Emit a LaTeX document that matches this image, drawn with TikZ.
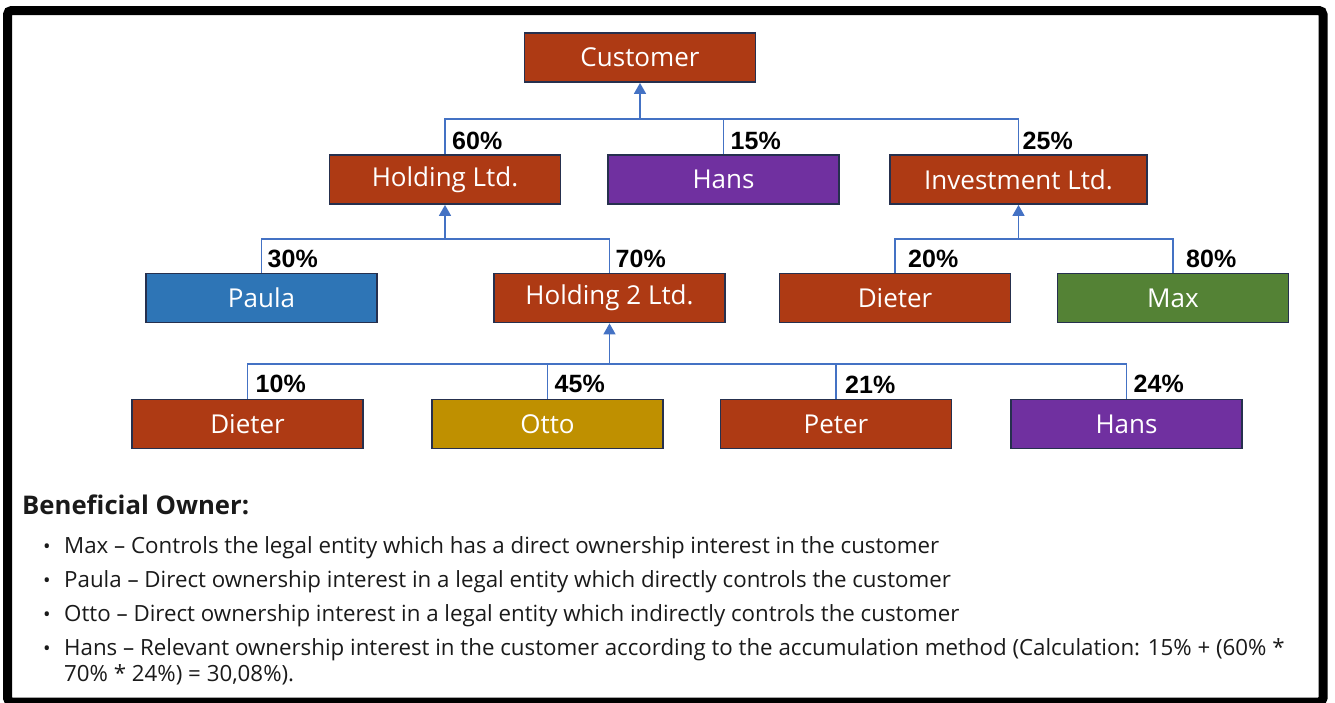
\documentclass[tikz,border=0pt]{standalone}
\usepackage{fontspec}
\setmainfont{Open Sans}
\newfontfamily\pctfont{Liberation Sans}
\usetikzlibrary{arrows.meta}
\definecolor{rust}{RGB}{174,58,20}
\definecolor{plum}{RGB}{112,48,160}
\definecolor{skyblue}{RGB}{46,117,182}
\definecolor{leaf}{RGB}{84,130,53}
\definecolor{gold}{RGB}{191,144,0}
\definecolor{boxline}{RGB}{38,48,78}
\definecolor{linkblue}{RGB}{68,114,196}
\definecolor{ink}{RGB}{26,26,26}
\begin{document}
\begin{tikzpicture}[x=1pt,y=-1pt,
  box/.style={draw=boxline, line width=1.8pt, minimum width=231pt, minimum height=49pt,
    inner sep=0pt, text=white, font=\fontsize{26}{29}\selectfont},
  link/.style={draw=linkblue, line width=1.6pt},
  uparrow/.style={link, -{Triangle[length=11pt,width=12pt]}},
  pct/.style={anchor=base west, inner sep=0pt, text=black,
    font=\pctfont\bfseries\fontsize{25}{28}\selectfont},
  bodytext/.style={anchor=base west, inner sep=0pt, text=ink,
    font=\fontsize{22.3}{26}\selectfont},
  bullet/.style={anchor=base, inner sep=0pt, text=ink, font=\fontsize{20}{24}\selectfont}
]
\useasboundingbox (0,0) rectangle (1335,702);
\fill[white] (0,0) rectangle (1335,702);
% outer frame
\draw[line width=9pt, rounded corners=4pt] (7.5,10.5) rectangle (1323,702);

% ownership boxes
\node[box, fill=rust] (cust) at (640,57.5) {Customer};

\node[box, fill=rust] (hold) at (445,179.5) {Holding Ltd.};
\node[box, fill=plum] (hansA) at (723.5,179.5) {Hans};
\node[box, fill=rust, minimum width=257pt] (inv) at (1018.5,179.5) {Investment Ltd.};

\node[box, fill=skyblue] (paula) at (261.5,298) {Paula};
\node[box, fill=rust] (holdB) at (609.5,298) {Holding 2 Ltd.};
\node[box, fill=rust] (dieterA) at (895,298) {Dieter};
\node[box, fill=leaf] (max) at (1173,298) {Max};

\node[box, fill=rust] (dieterB) at (247.5,424) {Dieter};
\node[box, fill=gold] (otto) at (547.5,424) {Otto};
\node[box, fill=rust] (peter) at (836,424) {Peter};
\node[box, fill=plum] (hansB) at (1126.5,424) {Hans};

% junction points of the elbow connectors
\coordinate (j1) at (640,119);
\coordinate (j2) at (445,239);
\coordinate (j3) at (1018.5,239);
\coordinate (j4) at (609.5,364);

% level 1
\draw[link] (hold.north) |- (j1);
\draw[link] (inv.north) |- (j1);
\draw[link] (hansA.north) -- (hansA.north |- j1);
\draw[uparrow] (j1) -- (cust.south);

% level 2
\draw[link] (paula.north) |- (j2);
\draw[link] (holdB.north) |- (j2);
\draw[uparrow] (j2) -- (hold.south);
\draw[link] (dieterA.north) |- (j3);
\draw[link] (max.north) |- (j3);
\draw[uparrow] (j3) -- (inv.south);

% level 3
\draw[link] (dieterB.north) |- (j4);
\draw[link] (otto.north) |- (j4);
\draw[link] (peter.north) |- (j4);
\draw[link] (hansB.north) |- (j4);
\draw[uparrow] (j4) -- (holdB.south);

% share labels
\node[pct] (p60) at ([xshift=7pt,yshift=5pt]hold.north) {60\%};
\node[pct] (p15) at ([xshift=7pt,yshift=5pt]hansA.north) {15\%};
\node[pct] (p25) at ([xshift=4pt,yshift=5pt]inv.north) {25\%};
\node[pct] (p30) at ([xshift=6pt,yshift=5pt]paula.north) {30\%};
\node[pct] (p70) at ([xshift=6pt,yshift=5pt]holdB.north) {70\%};
\node[pct] (p20) at ([xshift=13pt,yshift=5pt]dieterA.north) {20\%};
\node[pct] (p80) at ([xshift=13pt,yshift=5pt]max.north) {80\%};
\node[pct] (p10) at ([xshift=8pt,yshift=6pt]dieterB.north) {10\%};
\node[pct] (p45) at ([xshift=7pt,yshift=6pt]otto.north) {45\%};
\node[pct] (p21) at ([xshift=9pt,yshift=5pt]peter.north) {21\%};
\node[pct] (p24) at ([xshift=7pt,yshift=6pt]hansB.north) {24\%};

% explanation
\node[anchor=base west, inner sep=0pt, text=ink, font=\bfseries\fontsize{25.7}{29}\selectfont]
  (title) at (22,514) {Beneficial Owner:};
\node[bullet] (b1) at (47,553) {•};
\node[bodytext] (t1) at (64,553) {Max – Controls the legal entity which has a direct ownership interest in the customer};
\node[bullet] (b2) at (47,587) {•};
\node[bodytext] (t2) at (64,587) {Paula – Direct ownership interest in a legal entity which directly controls the customer};
\node[bullet] (b3) at (47,621) {•};
\node[bodytext] (t3) at (64,621) {Otto – Direct ownership interest in a legal entity which indirectly controls the customer};
\node[bullet] (b4) at (47,655) {•};
\node[bodytext] (t4) at (64,655) {Hans – Relevant ownership interest in the customer according to the accumulation method (Calculation: 15\% + (60\% *};
\node[bodytext] (t5) at (64,681) {70\% * 24\%) = 30,08\%).};
\end{tikzpicture}
\end{document}
